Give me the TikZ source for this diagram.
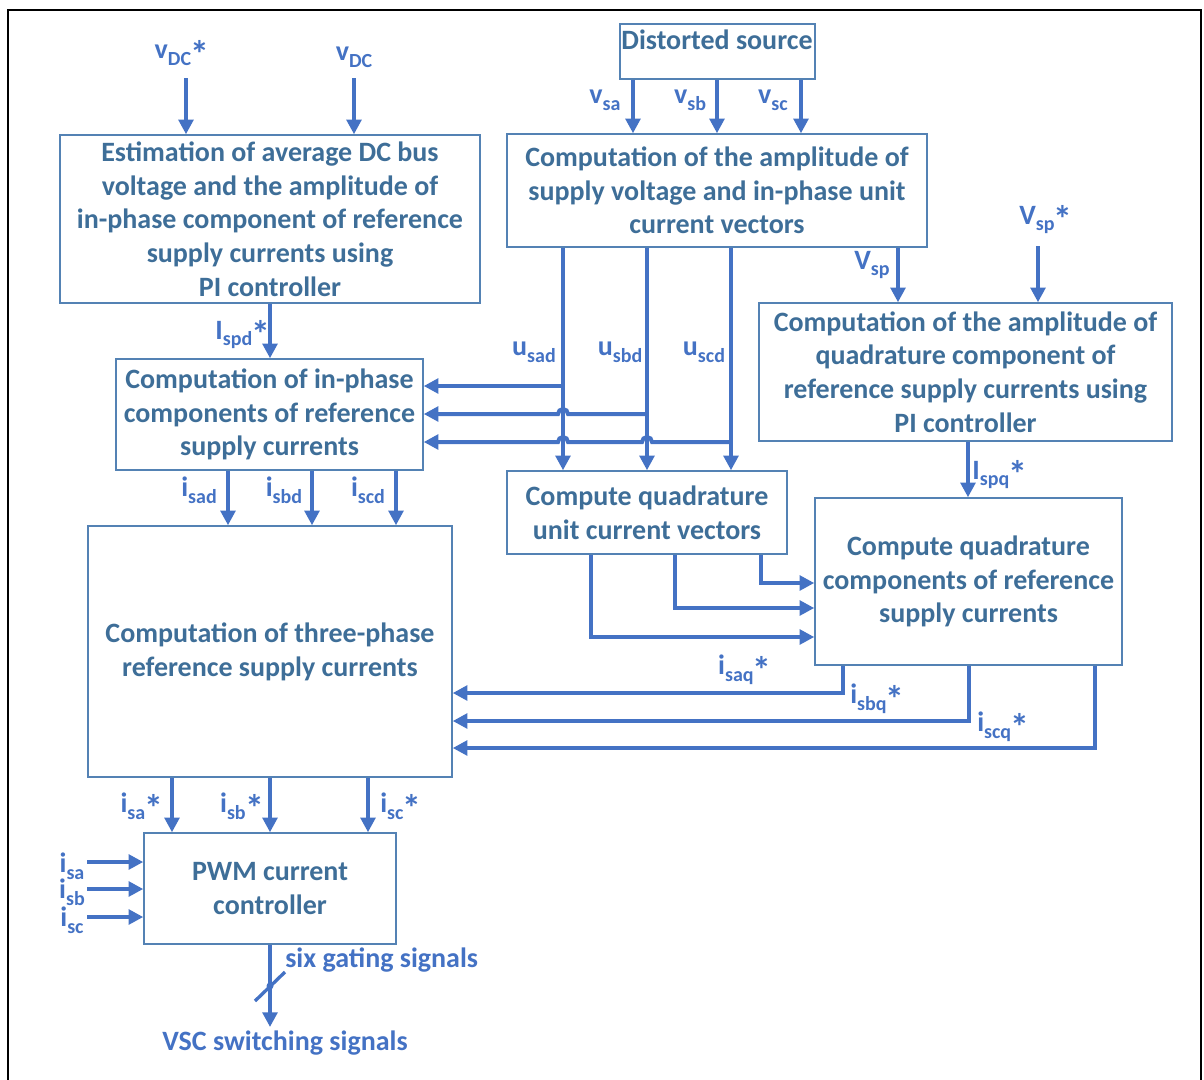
\documentclass[tikz,border=0pt]{standalone}
\usepackage{fontspec}
\setmainfont{Carlito}
\usetikzlibrary{arrows.meta,fit}
\definecolor{boxc}{RGB}{84,130,180}
\definecolor{txtc}{RGB}{62,110,152}
\definecolor{arrc}{RGB}{68,114,196}
\newcommand{\sbs}[1]{\raisebox{-0.5ex}{\fontsize{15}{15}\selectfont #1}}
\newcommand{\mystar}{\kern-0.5pt\raisebox{-0.65ex}{\scalebox{1.35}{*}}}
\tikzset{
  box/.style={draw=boxc, line width=1.1pt, inner sep=0pt},
  btxt/.style={text=txtc, font=\fontsize{21}{25.3}\selectfont\bfseries, align=center, inner sep=0pt},
  lab/.style={text=arrc, font=\fontsize{21}{24}\selectfont\bfseries, inner sep=0pt},
  arr/.style={draw=arrc, line width=3pt, -{Triangle[length=11pt,width=11pt]}},
  wire/.style={draw=arrc, line width=3pt}
}
\begin{document}
\begin{tikzpicture}[x=0.75pt,y=-0.75pt]
\useasboundingbox (0,0) rectangle (1204,1079);
\draw[black, line width=1.6pt] (8,1085) -- (8,10) -- (1201,10) -- (1201,1085);

% boxes
\node[box, fit={(620,24)(815,79)}] (b0) {};
\node[btxt, anchor=north] (t0) at (717,30) {Distorted source};
\node[box, fit={(60,135)(480,303)}] (b1) {};
\node[btxt] (t1) at (b1.center) {Estimation of average DC bus\\voltage and the amplitude of\\in-phase component of reference\\supply currents using\\PI controller};
\node[box, fit={(507,134)(927,247)}] (b2) {};
\node[btxt] (t2) at (b2.center) {Computation of the amplitude of\\supply voltage and in-phase unit\\current vectors};
\node[box, fit={(116,359)(423,470)}] (b3) {};
\node[btxt] (t3) at (b3.center) {Computation of in-phase\\components of reference\\supply currents};
\node[box, fit={(88,526)(452,777)}] (b4) {};
\node[btxt] (t4) at (b4.center) {Computation of three-phase\\reference supply currents};
\node[box, fit={(144,833)(396,944)}] (b5) {};
\node[btxt] (t5) at (b5.center) {PWM current\\controller};
\node[box, fit={(507,471)(787,554)}] (b6) {};
\node[btxt] (t6) at (b6.center) {Compute quadrature\\unit current vectors};
\node[box, fit={(759,303)(1172,441)}] (b7) {};
\node[btxt] (t7) at (b7.center) {Computation of the amplitude of\\quadrature component of\\reference supply currents using\\PI controller};
\node[box, fit={(815,498)(1122,665)}] (b8) {};
\node[btxt] (t8) at (b8.center) {Compute quadrature\\components of reference\\supply currents};

% free ends
\coordinate (vdcs0) at (186,78);
\coordinate (vdc0) at (354,78);
\coordinate (vsps0) at (1038,246);
\coordinate (isa0) at (87,862);
\coordinate (isb0) at (87,889);
\coordinate (isc0) at (87,917);
\coordinate (vsc1) at (270,1027);

% arrows top
\draw[arr] (vdcs0) -- (186,0 |- b1.north);
\draw[arr] (vdc0) -- (354,0 |- b1.north);
\draw[arr] (633,0 |- b0.south) -- (633,0 |- b2.north);
\draw[arr] (717,0 |- b0.south) -- (717,0 |- b2.north);
\draw[arr] (801,0 |- b0.south) -- (801,0 |- b2.north);
\draw[arr] (898,0 |- b2.south) -- (898,0 |- b7.north);
\draw[arr] (vsps0) -- (1038,0 |- b7.north);
\draw[arr] (270,0 |- b1.south) -- (270,0 |- b3.north);

% u vectors
\draw[arr] (563,0 |- b2.south) -- (563,0 |- b6.north);
\draw[arr] (647,0 |- b2.south) -- (647,0 |- b6.north);
\draw[arr] (731,0 |- b2.south) -- (731,0 |- b6.north);
\draw[arr] (563,386) -- (b3.east |- 0,386);
\draw[arr] (647,414) -- (568,414) arc (0:-180:5) -- (b3.east |- 0,414);
\draw[arr] (731,442) -- (652,442) arc (0:-180:5) -- (568,442) arc (0:-180:5) -- (b3.east |- 0,442);

% in-phase currents
\draw[arr] (228,0 |- b3.south) -- (228,0 |- b4.north);
\draw[arr] (312,0 |- b3.south) -- (312,0 |- b4.north);
\draw[arr] (396,0 |- b3.south) -- (396,0 |- b4.north);

% Ispq
\draw[arr] (968,0 |- b7.south) -- (968,0 |- b8.north);

% B6 -> B8
\draw[arr] (591,0 |- b6.south) -- (591,637) -- (b8.west |- 0,637);
\draw[arr] (675,0 |- b6.south) -- (675,608) -- (b8.west |- 0,608);
\draw[arr] (761,0 |- b6.south) -- (761,583) -- (b8.west |- 0,583);

% B8 -> B4
\draw[arr] (843,0 |- b8.south) -- (843,693) -- (b4.east |- 0,693);
\draw[arr] (969,0 |- b8.south) -- (969,721) -- (b4.east |- 0,721);
\draw[arr] (1095,0 |- b8.south) -- (1095,748) -- (b4.east |- 0,748);

% B4 -> B5
\draw[arr] (172,0 |- b4.south) -- (172,0 |- b5.north);
\draw[arr] (270,0 |- b4.south) -- (270,0 |- b5.north);
\draw[arr] (368,0 |- b4.south) -- (368,0 |- b5.north);

% measured currents
\draw[arr] (isa0) -- (b5.west |- isa0);
\draw[arr] (isb0) -- (b5.west |- isb0);
\draw[arr] (isc0) -- (b5.west |- isc0);

% output
\draw[arr] (270,0 |- b5.south) -- (vsc1);
\draw[wire, line width=2.5pt] (255,1001) -- (285,972);
\fill[arrc] (270,986) circle (3.5);

% labels
\node[lab] (lvdcs) at (182,54) {v\sbs{DC}\mystar};
\node[lab] (lvdc) at (354,57) {v\sbs{DC}};
\node[lab] (lvsa) at (605,100) {v\sbs{sa}};
\node[lab] (lvsb) at (690,100) {v\sbs{sb}};
\node[lab] (lvsc) at (773,100) {v\sbs{sc}};
\node[lab] (lusad) at (534,352) {u\sbs{sad}};
\node[lab] (lusbd) at (620,352) {u\sbs{sbd}};
\node[lab] (luscd) at (704,352) {u\sbs{scd}};
\node[lab] (lvsp) at (872,265) {V\sbs{sp}};
\node[lab] (lvsps) at (1046,220) {V\sbs{sp}\mystar};
\node[lab] (lispd) at (243,335) {I\sbs{spd}\mystar};
\node[lab] (lisad) at (199,490) {i\sbs{sad}};
\node[lab] (lisbd) at (284,490) {i\sbs{sbd}};
\node[lab] (liscd) at (368,490) {i\sbs{scd}};
\node[lab] (lispq) at (1000,475) {I\sbs{spq}\mystar};
\node[lab] (lisaq) at (745,670) {i\sbs{saq}\mystar};
\node[lab, anchor=west] (lisbq) at (850,699) {i\sbs{sbq}\mystar};
\node[lab, anchor=west] (liscq) at (977,727) {i\sbs{scq}\mystar};
\node[lab] (lisas) at (142,807) {i\sbs{sa}\mystar};
\node[lab] (lisbs) at (242,807) {i\sbs{sb}\mystar};
\node[lab] (liscs) at (401,807) {i\sbs{sc}\mystar};
\node[lab] (lisa) at (72,866) {i\sbs{sa}};
\node[lab] (lisb) at (72,892) {i\sbs{sb}};
\node[lab] (lisc) at (72,920) {i\sbs{sc}};
\node[lab, anchor=west] (lsix) at (285,960) {six gating signals};
\node[lab] (lvsc2) at (285,1043) {VSC switching signals};
\end{tikzpicture}
\end{document}
